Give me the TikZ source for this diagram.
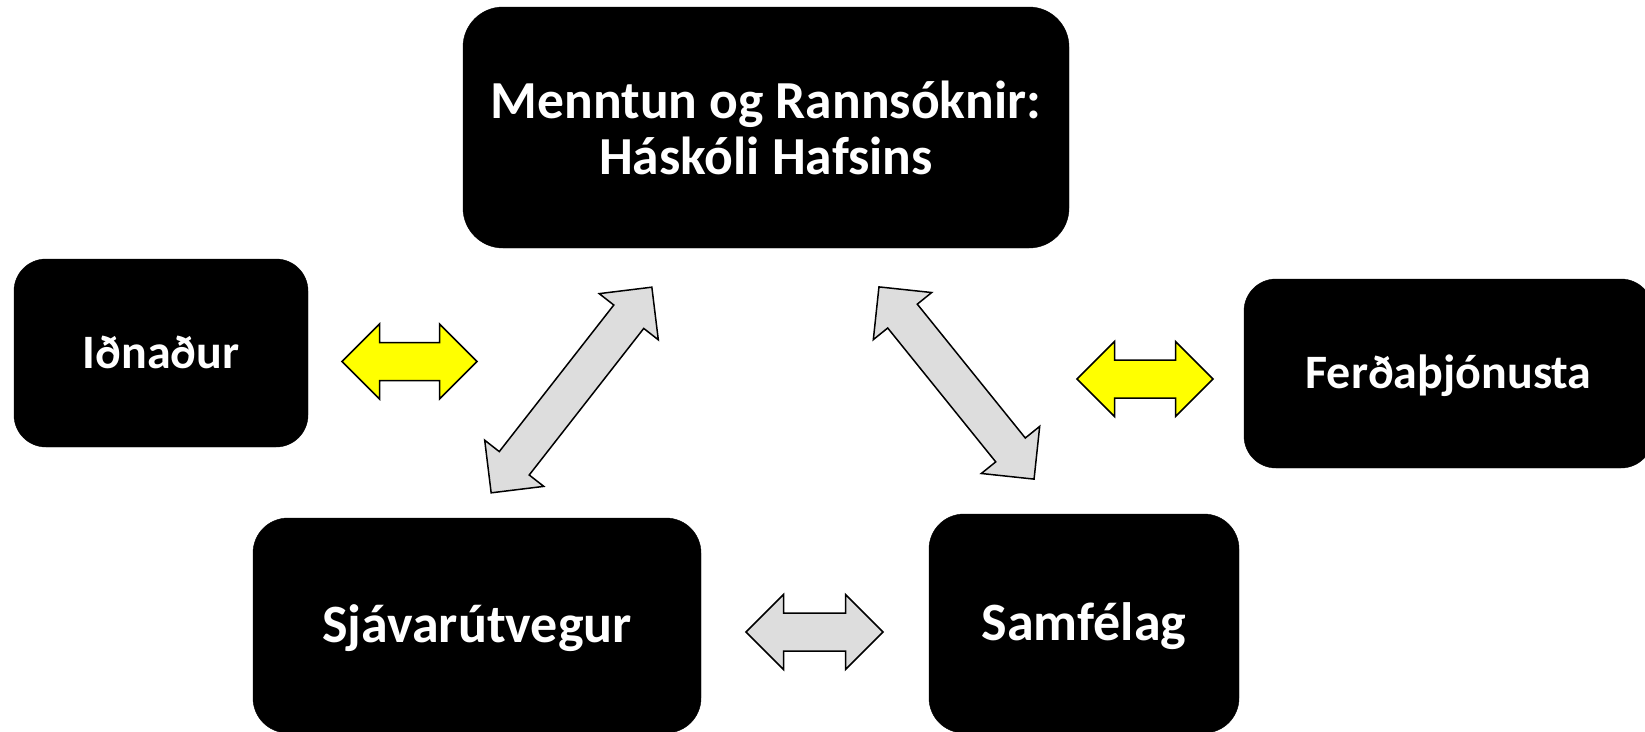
\documentclass[tikz,border=0pt]{standalone}
\usepackage{fontspec}
\setmainfont{Carlito}
\definecolor{arrowyellow}{RGB}{255,255,0}
\definecolor{arrowgray}{RGB}{221,221,221}
\tikzset{
  x=1pt, y=-1pt,
  box/.style={draw=black, fill=black, inner sep=0pt, text=white},
  smalltxt/.style={font=\bfseries\fontsize{48}{54}\selectfont, text height=30pt, text depth=0pt},
  bigtxt/.style={font=\bfseries\fontsize{54}{60}\selectfont, text height=34pt, text depth=0pt},
  toptxt/.style={font=\bfseries\fontsize{53.5}{56}\selectfont, align=center},
  yarr/.style={draw=black, fill=arrowyellow, line width=1.5pt, line join=miter},
  garr/.style={draw=black, fill=arrowgray, line width=1.5pt, line join=miter},
  pics/dblarr/.style={code={
    \path[pic actions] (-#1/2,0) -- (-#1/2+37.5,-37.5) -- (-#1/2+37.5,-19)
      -- (#1/2-37.5,-19) -- (#1/2-37.5,-37.5) -- (#1/2,0)
      -- (#1/2-37.5,37.5) -- (#1/2-37.5,19) -- (-#1/2+37.5,19)
      -- (-#1/2+37.5,37.5) -- cycle;
  }}
}
\begin{document}
\begin{tikzpicture}
\useasboundingbox (0,0) rectangle (1645,731);
\clip (0,0) rectangle (1645,731);
\fill[white] (0,0) rectangle (1645,731);
% boxes
\node[box, toptxt, rounded corners=40pt, minimum width=606pt, minimum height=241pt]
  (top) at (766,127.5) {Menntun og Rannsóknir:\\Háskóli Hafsins};
\node[box, smalltxt, rounded corners=32pt, minimum width=294pt, minimum height=188pt]
  (ind) at (161,353) {Iðnaður};
\node[box, smalltxt, rounded corners=32pt, minimum width=409pt, minimum height=189pt]
  (ferd) at (1448.5,373.5) {Ferðaþjónusta};
\node[box, bigtxt, rounded corners=35pt, minimum width=448pt, minimum height=215pt]
  (sjav) at (477,625.5) {Sjávarútvegur};
\node[box, bigtxt, rounded corners=35pt, minimum width=310pt, minimum height=219pt]
  (samf) at (1084,623.5) {Samfélag};
% block arrows
\pic[yarr] (aind) at (409.5,361.5) {dblarr=135};
\pic[yarr] (aferd) at (1145,379) {dblarr=136};
\pic[garr] (abot) at (814.5,632) {dblarr=137};
\pic[garr, rotate=52] (aleft) at (571.5,390) {dblarr=261};
\pic[garr, rotate=-51.1] (aright) at (956.5,383) {dblarr=247};
\end{tikzpicture}
\end{document}
